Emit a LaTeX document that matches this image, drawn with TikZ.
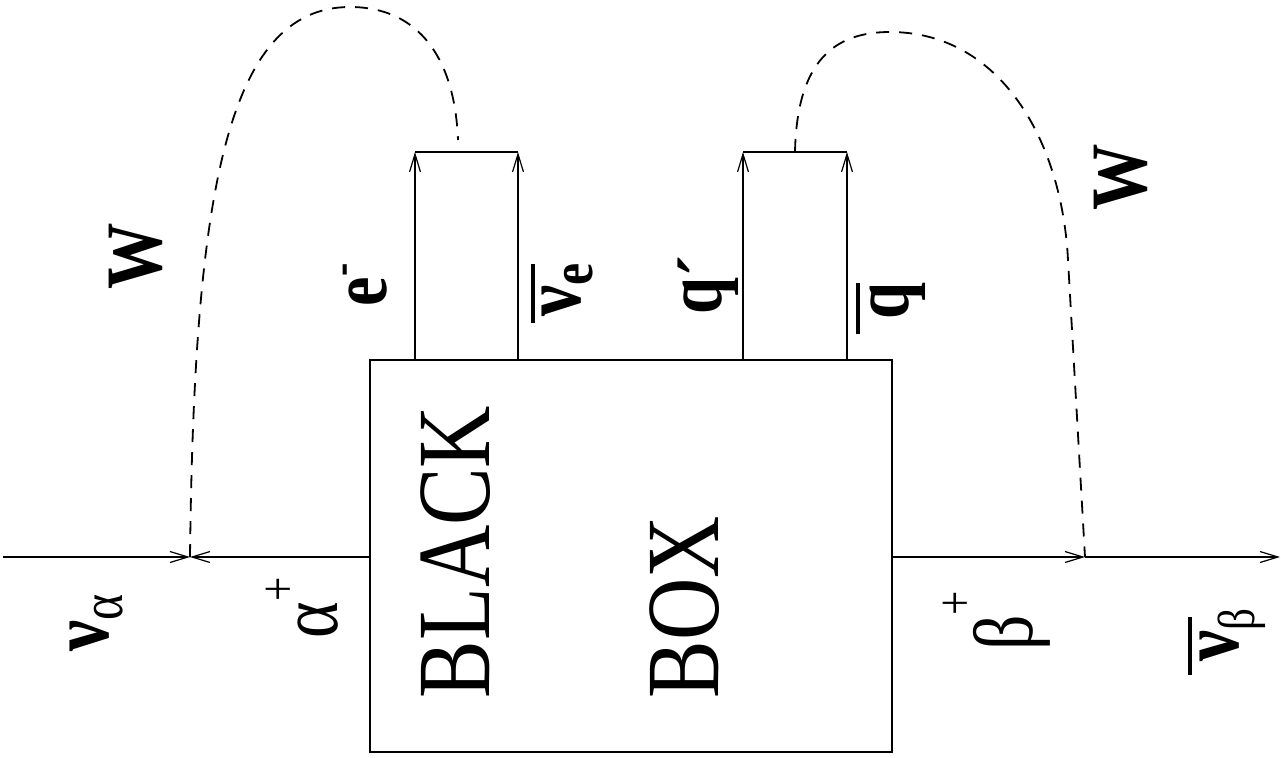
\documentclass[tikz,border=0pt]{standalone}
\usepackage{fontspec}
\setmainfont{Liberation Serif}
\usetikzlibrary{arrows.meta}
\newcommand\fs[1]{\fontsize{#1}{#1}\selectfont}
\newcommand\sq[1]{\scalebox{0.83}[1]{#1}}
\newcommand\ovbar[4]{\makebox[0pt][l]{\kern#1\rule[#2]{#3}{#4}}}
\tikzset{
  lbl/.style={rotate=90, inner sep=0pt, anchor=center},
  ln/.style={line width=1pt},
  arr/.style={ln, -{Straight Barb[length=9pt, width=5.5pt, line width=0.6pt]}},
  wline/.style={line width=0.9pt, dash pattern=on 6.5pt off 5pt},
}
\begin{document}
\begin{tikzpicture}[x=0.5pt, y=-0.5pt]
\useasboundingbox (0,0) rectangle (1281,757);
% black box
\node[draw, ln, minimum width=261pt, minimum height=196pt, inner sep=0pt] (box) at (631,556) {};
% main line coordinates
\coordinate (in) at (3,557);
\coordinate (vl) at (190,557);
\coordinate (bl) at (370,557);
\coordinate (br) at (892,557);
\coordinate (vr) at (1085,557);
\coordinate (out) at (1280,557);
% pipe coordinates
\coordinate (p1) at (415,360); \coordinate (p1t) at (415,152);
\coordinate (p2) at (518,360); \coordinate (p2t) at (518,152);
\coordinate (p3) at (743,360); \coordinate (p3t) at (743,152);
\coordinate (p4) at (847,360); \coordinate (p4t) at (847,152);
\coordinate (w1e) at (458,140);
\coordinate (w2s) at (795,152);
% fermion lines
\draw[arr] (in) -- (vl);
\draw[arr] (bl) -- (vl);
\draw[arr] (br) -- (vr);
\draw[arr] (vr) -- (out);
\draw[arr] (p1) -- (p1t);
\draw[arr] (p2) -- (p2t);
\draw[arr] (p3) -- (p3t);
\draw[arr] (p4) -- (p4t);
\draw[ln] (p1t) -- (p2t);
\draw[ln] (p3t) -- (p4t);
% W lines
\draw[wline] (vl) .. controls (194,200) and (225,7) .. (350,7)
  .. controls (420,7) and (455,60) .. (w1e);
\draw[wline] (w2s) .. controls (797,60) and (835,32) .. (890,32)
  .. controls (1000,32) and (1062,140) .. (1068,260) -- (vr);
% labels
\node[lbl] (W1) at (136,256) {\sq{\fs{40}\bfseries W}};
\node[lbl] (W2) at (1121,177) {\sq{\fs{40}\bfseries W}};
\node[lbl] (nua) at (97,623) {\sq{\fs{42}\textbf{ν}\fs{30}\raisebox{-7pt}{α}}};
\node[lbl] (alp) at (302,608) {\sq{\fs{42}α\fs{26}\raisebox{21pt}{+}}};
\node[lbl] (black) at (456,552) {\sq{\fs{52}BLACK}};
\node[lbl] (boxt) at (685,607) {\sq{\fs{52}BOX}};
\node[lbl] (bet) at (997,621) {\sq{\fs{42}β\fs{26}\raisebox{30pt}{+}}};
\node[lbl] (nub) at (1227,635) {\sq{\fs{42}\ovbar{-8pt}{23pt}{35pt}{2pt}\textbf{ν}\fs{26}\raisebox{-8pt}{β}}};
\node[lbl] (em) at (365,285) {\sq{\fs{40}\bfseries e\fs{24}\raisebox{15pt}{-}}};
\node[lbl] (nue) at (562,290) {\sq{\fs{42}\ovbar{-4pt}{23pt}{36pt}{2pt}\textbf{ν}\fs{30}\bfseries\raisebox{-6pt}{e}}};
\node[lbl] (qp) at (708,285) {\sq{\fs{40}\bfseries q\raisebox{-6pt}{´}}};
\node[lbl] (qb) at (891,301) {\sq{\fs{40}\bfseries\ovbar{-9pt}{24pt}{31pt}{2pt}q}};
\end{tikzpicture}
\end{document}
